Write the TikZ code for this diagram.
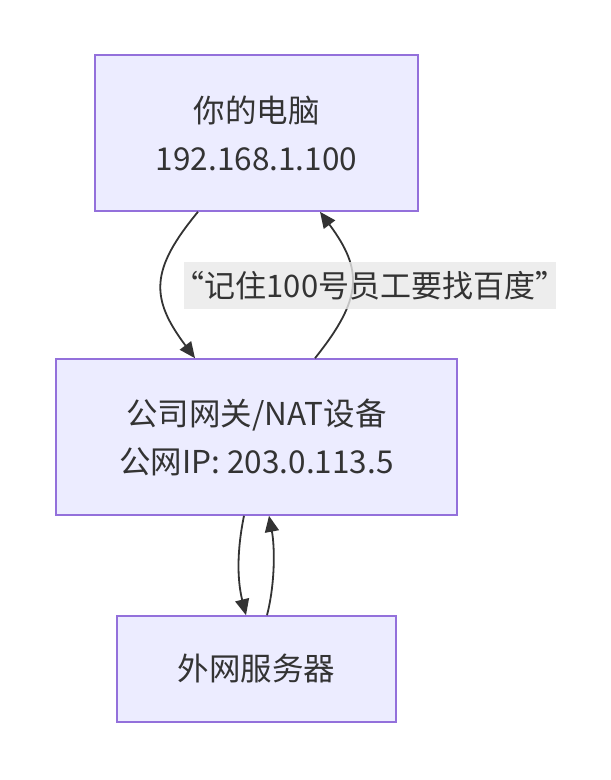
\documentclass[tikz,border=0pt]{standalone}
\usepackage{fontspec}
\setmainfont{Noto Sans CJK SC}
\usetikzlibrary{arrows.meta}
\definecolor{boxfill}{HTML}{ECECFF}
\definecolor{boxline}{HTML}{9370DB}
\definecolor{ink}{HTML}{333333}
\definecolor{lblbg}{HTML}{E8E8E8}
\tikzset{
  box/.style={draw=boxline, fill=boxfill, line width=1.6pt, rectangle, align=center,
    inner sep=0pt, text=ink, font=\fontsize{31.5}{48}\selectfont},
  link/.style={draw=ink, line width=1.8pt, -{Triangle[length=16pt,width=14pt]}},
  lbl/.style={fill=lblbg, fill opacity=0.8, text opacity=1, text=ink, inner ysep=0pt, inner xsep=-12pt,
    minimum width=372pt, minimum height=47pt, font=\fontsize{31}{40}\selectfont}
}
\begin{document}
\begin{tikzpicture}[x=1pt,y=-1pt]
\useasboundingbox (0,0) rectangle (611,780);
\node[box, minimum width=323pt, minimum height=156pt] (pc) at (256.5,133) {你的电脑\\192.168.1.100};
\node[box, minimum width=401pt, minimum height=156pt] (nat) at (256.5,437) {公司网关/NAT设备\\公网IP: 203.0.113.5};
\node[box, minimum width=279pt, minimum height=106pt] (srv) at (256.5,669) {外网服务器};
\draw[link] ([xshift=-58.5pt]pc.south) .. controls +(-48,58) and +(-45,-60) .. ([xshift=-61.5pt]nat.north);
\draw[link] ([xshift=58.5pt]nat.north) .. controls +(48,-60) and +(43,58) .. ([xshift=63.5pt]pc.south);
\draw[link] ([xshift=-12.5pt]nat.south) .. controls +(-7,34) and +(-9,-36) .. ([xshift=-10.5pt]srv.north);
\draw[link] ([xshift=10.5pt]srv.north) .. controls +(8,-31) and +(6,32) .. ([xshift=12.5pt]nat.south);
\node[lbl] (note) at (370,285.5) {“记住100号员工要找百度”};
\end{tikzpicture}
\end{document}
